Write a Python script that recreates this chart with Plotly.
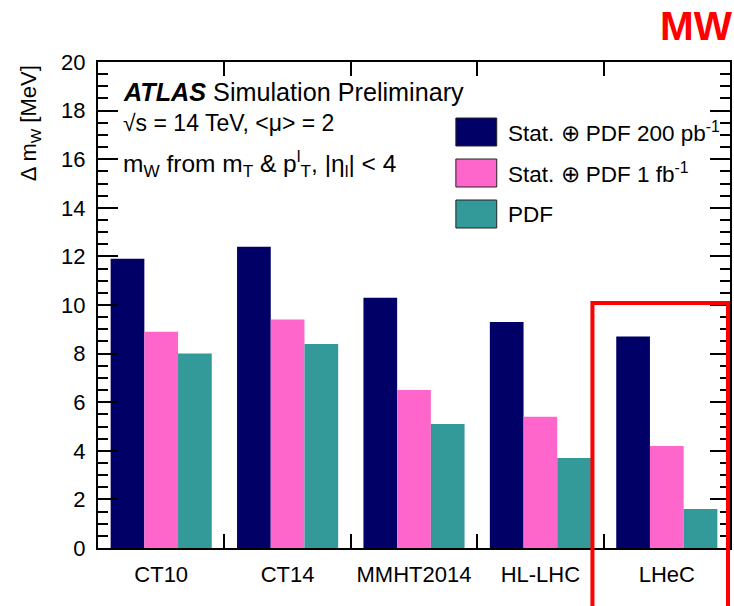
import plotly.graph_objects as go

# Data: W-mass uncertainty per PDF set
categories = ["CT10", "CT14", "MMHT2014", "HL-LHC", "LHeC"]
stat_pdf_200pb = [11.9, 12.4, 10.3, 9.3, 8.7]
stat_pdf_1fb = [8.9, 9.4, 6.5, 5.4, 4.2]
pdf_only = [8.0, 8.4, 5.1, 3.7, 1.6]

series_names = ["Stat. ⊕ PDF 200 pb<sup>-1</sup>",
                "Stat. ⊕ PDF 1 fb<sup>-1</sup>",
                "PDF"]
colors = ["#000066", "#FF66CC", "#339999"]

W, H = 734, 606
ML, MR, MT, MB = 98, 2, 62, 58
PW, PH = W - ML - MR, H - MT - MB
FONT = "Liberation Sans, Arial, Helvetica, sans-serif"


def px(x):
    return (x - ML) / PW


def py(y):
    return (H - MB - y) / PH


fig = go.Figure()
for name, vals, col in zip(series_names, [stat_pdf_200pb, stat_pdf_1fb, pdf_only], colors):
    fig.add_trace(go.Bar(x=categories, y=vals, name=name, marker=dict(color=col, line=dict(width=0)),
                         showlegend=False))

axis_common = dict(showline=True, linecolor="black", linewidth=2, mirror="ticks",
                   ticks="inside", tickcolor="black", showgrid=False, zeroline=False,
                   tickfont=dict(family=FONT, size=22, color="black"))

fig.update_layout(
    width=W, height=H,
    margin=dict(l=ML, r=MR, t=MT, b=MB),
    paper_bgcolor="white", plot_bgcolor="white",
    barmode="group", bargap=0.2, bargroupgap=0.0,
    font=dict(family=FONT, color="black"),
    xaxis=dict(**axis_common, tickson="boundaries", ticklen=14, tickwidth=1.5,
               range=[-0.5, 4.5], ticklabelstandoff=6),
    yaxis=dict(**axis_common, range=[0, 20], dtick=2, ticklen=20, tickwidth=2,
               ticklabelstandoff=6,
               minor=dict(dtick=0.5, ticklen=10, tickwidth=1.5, ticks="inside", tickcolor="black")),
)

annotations = [
    dict(x=px(30), y=py(123), text="Δ m<sub>W</sub> [MeV]", textangle=-90,
         font=dict(size=22)),
    dict(x=px(121), y=py(92), text="<b><i>ATLAS</i></b> Simulation Preliminary",
         xanchor="left", font=dict(size=25.2)),
    dict(x=px(121), y=py(123), text="√s = 14 TeV, &lt;μ&gt; = 2",
         xanchor="left", font=dict(size=23)),
    dict(x=px(121), y=py(163), text="m<sub>W</sub> from m<sub>T</sub> &amp; p<sup>l</sup><sub>T</sub>, |η<sub>l</sub>| &lt; 4",
         xanchor="left", font=dict(size=24.5)),
    dict(x=px(660), y=py(26), text="<b>MW</b>", xanchor="left",
         font=dict(size=40.5, color="#FF0000")),
]

shapes = []
# Legend swatches and labels
legend_rows = [132, 173, 214]
for yc, name, col in zip(legend_rows, series_names, colors):
    shapes.append(dict(type="rect", xref="paper", yref="paper",
                       x0=px(457), x1=px(498), y0=py(yc - 14), y1=py(yc + 14),
                       fillcolor=col, line=dict(color="#222222", width=1)))
    annotations.append(dict(x=px(507), y=py(yc), text=name, xanchor="left",
                            font=dict(size=22.5)))

# Highlight frame around the LHeC group
shapes.append(dict(type="rect", xref="paper", yref="paper",
                   x0=px(594), x1=px(730), y0=py(640), y1=py(303),
                   fillcolor="rgba(0,0,0,0)", line=dict(color="#FF0000", width=4),
                   layer="above"))

for a in annotations:
    a.setdefault("xref", "paper")
    a.setdefault("yref", "paper")
    a.setdefault("showarrow", False)
    a.setdefault("yanchor", "middle")
    a.setdefault("xanchor", "center")

fig.update_layout(annotations=annotations, shapes=shapes)
fig.write_html("out.html")
